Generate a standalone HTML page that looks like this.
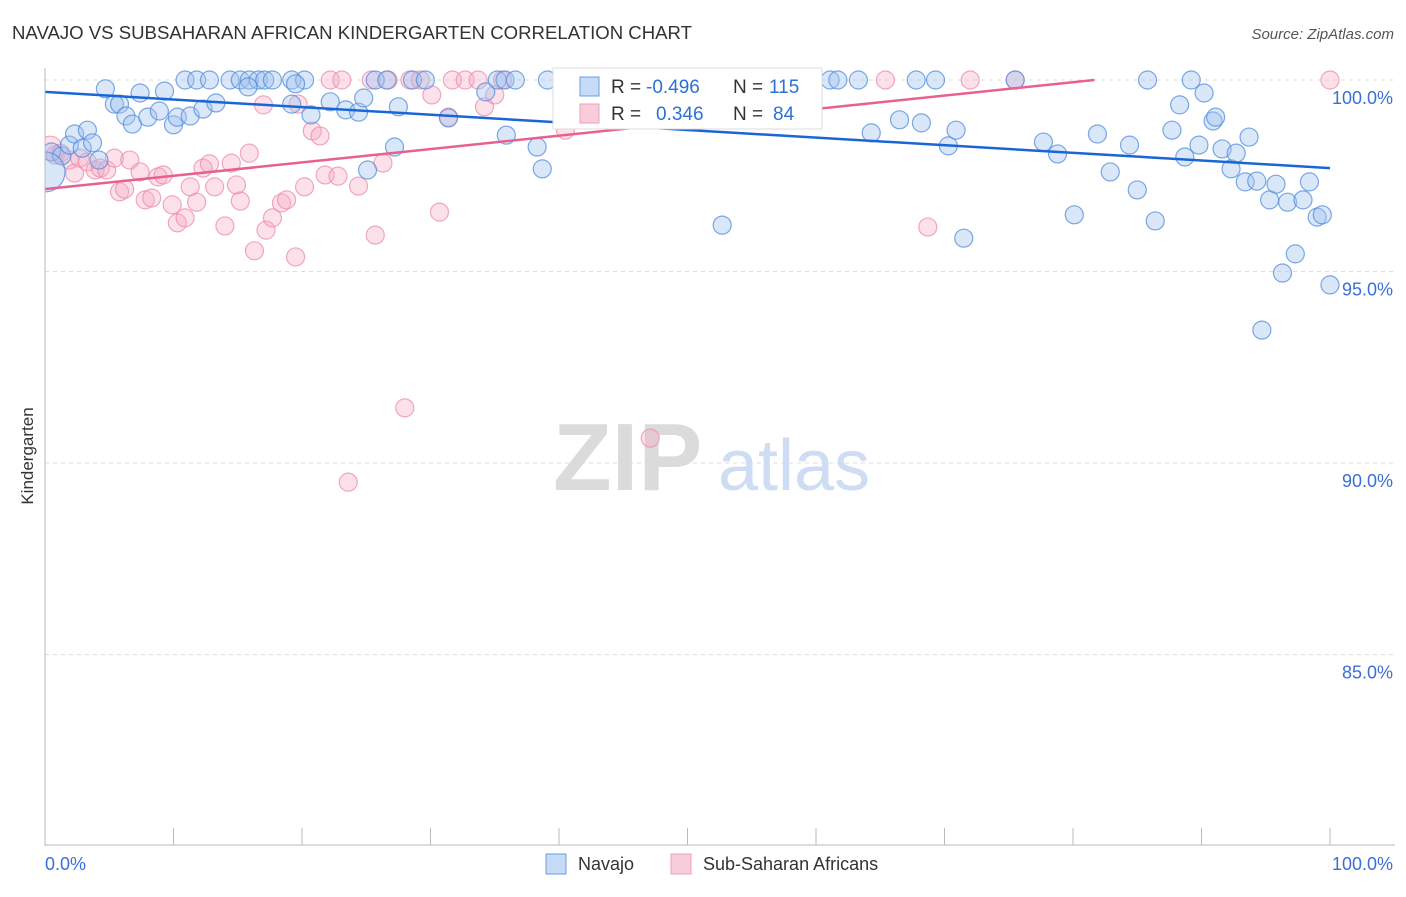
<!DOCTYPE html>
<html><head><meta charset="utf-8"><style>
body{margin:0;background:#fff;font-family:"Liberation Sans",sans-serif;}
svg text{font-family:"Liberation Sans",sans-serif;}
</style></head><body>
<svg id="chart" width="1406" height="892" viewBox="0 0 1406 892" xmlns="http://www.w3.org/2000/svg">
<defs><clipPath id="plotclip"><rect x="45" y="40" width="1360" height="805"/></clipPath></defs>
<rect width="1406" height="892" fill="#fff"/>
<text x="12" y="39" font-size="18.3" fill="#333" textLength="680" lengthAdjust="spacingAndGlyphs">NAVAJO VS SUBSAHARAN AFRICAN KINDERGARTEN CORRELATION CHART</text>
<text x="1394" y="39" font-size="15" fill="#555" font-style="italic" text-anchor="end">Source: ZipAtlas.com</text>
<text x="0" y="0" font-size="17" fill="#333" text-anchor="middle" transform="translate(33,456) rotate(-90)">Kindergarten</text>
<g id="grid"></g>
<g opacity="0.9">
<text x="553" y="490" font-size="96" fill="#d8d8d8" font-family="Liberation Serif,serif" font-weight="bold">ZIP</text>
<text x="718" y="490" font-size="72" fill="#c9daf2">atlas</text>
</g>
<g id="pts" clip-path="url(#plotclip)"></g>
<g id="lines"></g>
<g id="axes"></g>
<g>
<rect x="553" y="68" width="269" height="61" fill="#fff" stroke="#ddd"/>
<rect x="580" y="77" width="19" height="19" fill="rgba(160,195,240,0.6)" stroke="#6a9fe0"/>
<text x="611" y="93" font-size="19" fill="#333">R =</text>
<text x="646" y="93" font-size="19" fill="#2f6fd8">-0.496</text>
<text x="733" y="93" font-size="19" fill="#333">N =</text>
<text x="769" y="93" font-size="19" fill="#2f6fd8">115</text>
<rect x="580" y="104" width="19" height="19" fill="rgba(245,170,195,0.6)" stroke="#f0a0b8"/>
<text x="611" y="120" font-size="19" fill="#333">R =</text>
<text x="656" y="120" font-size="19" fill="#2f6fd8">0.346</text>
<text x="733" y="120" font-size="19" fill="#333">N =</text>
<text x="773" y="120" font-size="19" fill="#2f6fd8">84</text>
</g>
<g>
<rect x="546" y="854" width="20" height="20" fill="rgba(160,195,240,0.6)" stroke="#6a9fe0"/>
<text x="578" y="870" font-size="18" fill="#333">Navajo</text>
<rect x="671" y="854" width="20" height="20" fill="rgba(245,170,195,0.6)" stroke="#f0a0b8"/>
<text x="703" y="870" font-size="18" fill="#333">Sub-Saharan Africans</text>
</g>
</svg>
<script>
const yTicks=[100,95,90,85];
const yTickLabels=["100.0%","95.0%","90.0%","85.0%"];
const xTickVals=[0,10,20,30,40,50,60,70,80,90,100];
const navajoX=[4.7,5.4,5.8,7.4,9.3,6.3,6.8,8.0,8.9,10.0,10.3,11.3,12.3,13.3,10.9,11.8,12.8,14.4,15.2,15.9,16.6,17.1,17.7,15.8,19.2,20.2,19.5,19.2,20.7,22.2,23.4,24.4,24.8,25.7,26.6,27.5,28.6,29.6,31.4,34.3,35.2,35.8,36.6,35.9,38.3,38.7,39.1,42.0,44.7,51.0,52.7,61.1,61.7,63.3,64.3,66.5,67.8,69.3,68.2,70.3,70.9,71.5,77.7,78.8,80.1,81.9,82.9,84.4,85.0,85.8,86.4,87.7,88.3,88.7,89.2,89.8,90.2,90.9,91.1,91.6,92.3,92.7,93.4,93.7,94.3,94.7,95.3,95.8,96.3,96.7,97.3,97.9,98.4,99.0,99.4,100.0,0.5,1.3,1.9,2.3,2.9,3.3,3.7,4.2,27.2,25.1,75.5,0.0];
const navajoY=[99.77,99.37,99.37,99.66,99.71,99.06,98.85,99.03,99.19,98.83,99.03,99.06,99.24,99.40,100,100,100,100,100,100,100,100,100,99.82,100,100,99.9,99.37,99.09,99.43,99.22,99.16,99.53,100,100,99.30,100,100,99.01,99.69,100,100,100,98.56,98.25,97.68,100,100,100,100,96.21,100,100,100,98.62,98.96,100,100,98.88,98.28,98.69,95.87,98.38,98.07,96.48,98.59,97.60,98.30,97.13,100,96.32,98.69,99.35,97.99,100,98.30,99.66,98.93,99.03,98.20,97.68,98.09,97.34,98.51,97.36,93.47,96.87,97.28,94.96,96.81,95.46,96.87,97.34,96.42,96.48,94.65,98.12,98.02,98.30,98.59,98.22,98.69,98.36,97.91,98.25,97.65,100,97.6];
const navajoSize=[];navajoSize[navajoX.length-1]=20;
const subX=[0.4,0.8,1.2,1.9,2.3,2.7,3.3,3.9,4.3,4.8,5.4,5.8,6.2,6.6,7.4,7.8,8.3,8.8,9.2,9.9,10.3,10.9,11.3,11.8,12.3,12.8,13.2,14.0,14.5,14.9,15.2,15.9,16.3,17.0,17.2,17.7,18.4,18.8,19.5,19.7,20.2,20.8,21.4,21.8,22.2,22.8,23.1,23.6,24.4,25.4,25.7,26.3,26.7,28.0,28.4,29.2,30.1,30.7,31.4,31.7,32.7,33.7,34.2,35.0,35.6,40.5,40.5,46.3,47.1,49.6,51.9,54.1,56.4,59.2,65.4,68.7,72.0,75.5,100];
const subY=[98.22,98.04,98.09,97.91,97.57,97.96,97.86,97.65,97.70,97.65,97.96,97.08,97.15,97.91,97.60,96.87,96.92,97.47,97.52,96.74,96.27,96.40,97.21,96.81,97.70,97.81,97.21,96.19,97.83,97.26,96.84,98.09,95.54,99.35,96.08,96.40,96.79,96.87,95.38,99.37,97.21,98.67,98.54,97.52,100,97.49,100,89.50,97.23,100,95.95,97.83,100,91.44,100,100,99.61,96.55,99.03,100,100,100,99.30,99.61,100,100,98.69,100,90.65,100,100,100,100,100,100,96.16,100,100,100];
const subSize=[12];
const navajoTrend=[99.69,97.70];
const subTrend=[97.15,100.64];

const X0=45,X1=1330,Y100=80,PXPER=38.3;
const sx=v=>X0+(X1-X0)*v/100;
const sy=v=>Y100+(100-v)*PXPER;
const NS="http://www.w3.org/2000/svg";
function mk(tag,attrs,parent){const e=document.createElementNS(NS,tag);for(const k in attrs)e.setAttribute(k,attrs[k]);parent.appendChild(e);return e;}
const grid=document.getElementById('grid'),axes=document.getElementById('axes'),pts=document.getElementById('pts'),lines=document.getElementById('lines');
yTicks.forEach((t,i)=>{
 const l=mk('line',{x1:X0,x2:1395,y1:sy(t),y2:sy(t),stroke:'#ddd','stroke-dasharray':'4,4'},grid);
 
 
 const tx=mk('text',{x:1393,y:sy(t)+24,'font-size':18,fill:'#3a6fd8','text-anchor':'end'},axes);
 tx.textContent=yTickLabels[i];
 
 
});
const la=mk('line',{x1:X0,x2:X0,y1:68,y2:846,stroke:'#bbb'},axes);


const ba=mk('line',{x1:X0,x2:1395,y1:845,y2:845,stroke:'#bbb'},axes);


xTickVals.forEach(v=>{
 const t=mk('line',{x1:sx(v),x2:sx(v),y1:828,y2:845,stroke:'#bbb'},axes);
 
 
});
const xl0=mk('text',{x:45,y:870,'font-size':18,fill:'#3a6fd8'},axes);xl0.textContent='0.0%';


const xl1=mk('text',{x:1393,y:870,'font-size':18,fill:'#3a6fd8','text-anchor':'end'},axes);xl1.textContent='100.0%';


subX.forEach((x,i)=>{
 const c=mk('circle',{cx:sx(x),cy:sy(subY[i]),r:subSize[i]||9,fill:'rgba(245,170,195,0.35)',stroke:'rgba(236,140,170,0.75)','stroke-width':1.2},pts);
 
 
});
navajoX.forEach((x,i)=>{
 const c=mk('circle',{cx:sx(x),cy:sy(navajoY[i]),r:navajoSize[i]||9,fill:'rgba(160,195,240,0.4)',stroke:'rgba(80,140,220,0.75)','stroke-width':1.2},pts);
 
 
});
const nl=mk('line',{x1:sx(0),y1:sy(navajoTrend[0]),x2:sx(100),y2:sy(navajoTrend[1]),stroke:'#1a66d6','stroke-width':2.5},lines);


const xCross=(100-subTrend[0])/(subTrend[1]-subTrend[0])*100;
const sl=mk('line',{x1:sx(0),y1:sy(subTrend[0]),x2:sx(Math.min(100,xCross)),y2:sy(Math.min(100,subTrend[1])),stroke:'#e8608f','stroke-width':2.5},lines);


</script>
</body></html>
